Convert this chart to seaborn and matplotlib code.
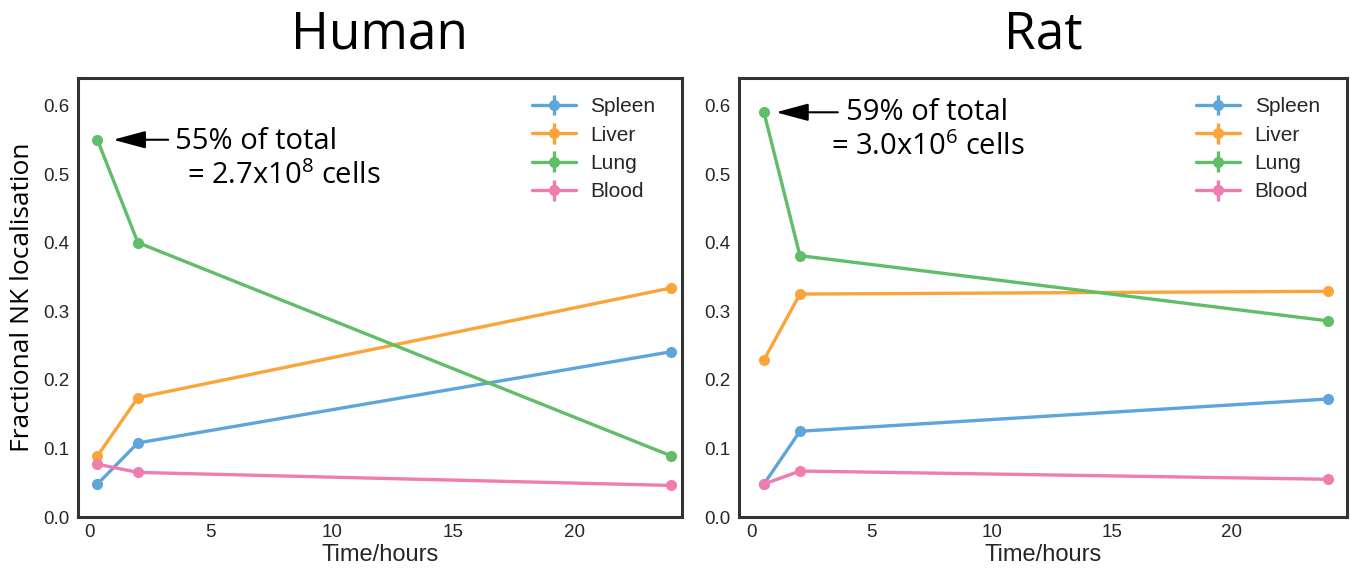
import numpy as np
import pandas as pd
import matplotlib
matplotlib.use('Agg')
import matplotlib.pyplot as plt
import seaborn as sns

organs = ['Spleen', 'Liver', 'Lung', 'Blood']
colours = ['#5DA5DA', '#FAA43A', '#60BD68', '#F17CB0']

human_time = [0.33, 2, 24]
human_spleen = [0.048, 0.108, 0.241]
human_liver = [0.089, 0.174, 0.334]
human_lung = [0.550, 0.400, 0.089]
human_blood = [0.077, 0.065, 0.046]

rat_time = [0.5, 2, 24]
rat_spleen = [0.048, 0.125, 0.172]
rat_liver = [0.229, 0.325, 0.329]
rat_lung = [0.590, 0.381, 0.286]
rat_blood = [0.048, 0.067, 0.055]

human_note = ['55% of total', '= 2.7x10$^8$ cells']
rat_note = ['59% of total', '= 3.0x10$^6$ cells']


def to_long(time, series):
    rows = []
    for organ, vals in zip(organs, series):
        for t, v in zip(time, vals):
            rows.append({'time': t, 'organ': organ, 'frac': v})
    return pd.DataFrame(rows)


human_df = to_long(human_time, [human_spleen, human_liver, human_lung, human_blood])
rat_df = to_long(rat_time, [rat_spleen, rat_liver, rat_lung, rat_blood])

sns.set_style('white')
plt.rcParams['font.family'] = ['Liberation Sans', 'DejaVu Sans']
plt.rcParams['mathtext.fontset'] = 'custom'
plt.rcParams['mathtext.rm'] = 'Open Sans'
plt.rcParams['mathtext.it'] = 'Open Sans'

fig = plt.figure(figsize=(13.5, 5.74), dpi=100)
ax_h = fig.add_axes([78/1350, 1-517/574, 604/1350, 439/574])
ax_r = fig.add_axes([739/1350, 1-517/574, 608/1350, 439/574])

pal = dict(zip(organs, colours))

panels = [
    (ax_h, human_df, 'Human', (-0.47, 24.44), human_note,
     (0.98, 3.25, 0.550), [(3.54, 0.548), (4.03, 0.497)]),
    (ax_r, rat_df, 'Rat', (-0.54, 24.8), rat_note,
     (1.0, 3.58, 0.590), [(3.92, 0.590), (3.29, 0.540)]),
]

for ax, df, title, xlim, note, arrow, txt_pos in panels:
    sns.lineplot(data=df, x='time', y='frac', hue='organ', palette=pal,
                 marker='o', markersize=8, markeredgewidth=0, linewidth=2.4,
                 legend=False, ax=ax)
    # errorbar-style handles for the legend
    for organ, c in zip(organs, colours):
        ax.errorbar([np.nan], [np.nan], yerr=[0], fmt='-o', color=c, lw=2.4,
                    ms=7, elinewidth=2.4, label=organ)
    ax.set_xlim(*xlim)
    ax.set_ylim(0, 0.64)
    ax.set_xticks([0, 5, 10, 15, 20])
    ax.set_yticks([0.0, 0.1, 0.2, 0.3, 0.4, 0.5, 0.6])
    ax.set_yticklabels(['0.0', '0.1', '0.2', '0.3', '0.4', '0.5', '0.6'])
    ax.tick_params(axis='both', labelsize=13.5, length=0, colors='#262626')
    ax.tick_params(axis='y', pad=6)
    ax.tick_params(axis='x', pad=5)
    for s in ax.spines.values():
        s.set_color('#333333')
        s.set_linewidth(2.2)
    ax.set_xlabel('Time/hours', fontsize=17, color='#262626', labelpad=2)
    ax.set_ylabel('')
    ax.set_title(title, fontsize=37, family='Open Sans', color='black', pad=21)

    tip, tail, ya = arrow
    ax.annotate('', xy=(tip, ya), xytext=(tail, ya),
                arrowprops=dict(arrowstyle='-|>,head_length=1.0,head_width=0.27',
                                color='black', lw=1.5, shrinkA=0, shrinkB=0,
                                mutation_scale=20))
    for line, (tx, ty) in zip(note, txt_pos):
        ax.text(tx, ty, line, fontsize=21, family='Open Sans', ha='left',
                va='center', color='black')

    leg = ax.legend(loc='upper left', bbox_to_anchor=(0.752, 0.956),
                    frameon=False, fontsize=15, borderpad=0, borderaxespad=0,
                    handlelength=2.1, handletextpad=0.7, labelspacing=0.45)
    for t in leg.get_texts():
        t.set_color('#262626')

ax_h.set_ylabel('Fractional NK localisation', fontsize=19, family='Open Sans',
                color='black')
ax_h.yaxis.set_label_coords(-0.072, 0.5)

fig.savefig('out.png', dpi=100)
